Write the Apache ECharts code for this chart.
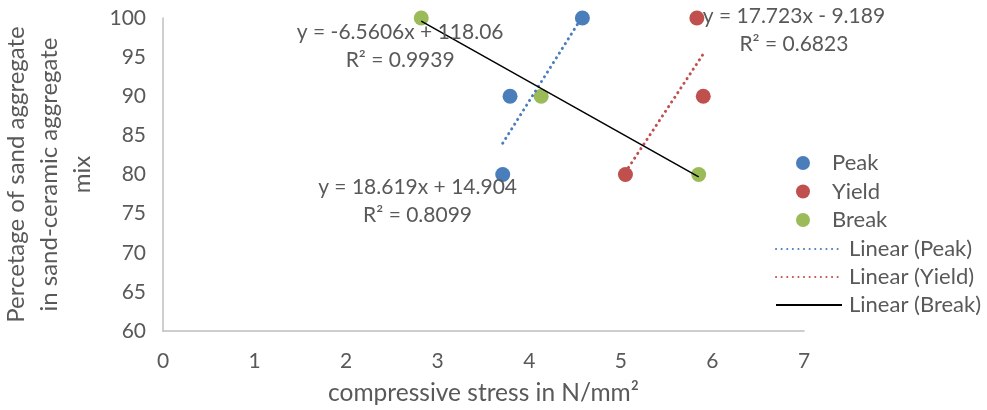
<!DOCTYPE html>
<html>
<head>
<meta charset="utf-8">
<script src="https://cdn.jsdelivr.net/npm/echarts@6/dist/echarts.min.js"></script>
<style>html,body{margin:0;padding:0;background:#fff}#c{width:987px;height:410px}</style>
</head>
<body>
<div id="c"></div>
<script>
// Data
const peakPoints  = [[3.71, 80], [3.79, 90], [4.58, 100]];
const yieldPoints = [[5.05, 80], [5.90, 90], [5.83, 100]];
const breakPoints = [[2.82, 100], [4.13, 90], [5.85, 80]];
// Trendline end points (as drawn in the picture)
const peakTrend  = [[3.71, 84.0], [4.58, 100.2]];
const yieldTrend = [[5.05, 80.3], [5.90, 95.4]];
const breakTrend = [[2.82, 99.6], [5.85, 79.7]];
// Equation labels: [x, y, text]
const peakEq  = [2.78, 76.6, 'y = 18.619x + 14.904\nR² = 0.8099'];
const yieldEq = [6.89, 98.4, 'y = 17.723x - 9.189\nR² = 0.6823'];
const breakEq = [2.59, 96.4, 'y = -6.5606x + 118.06\nR² = 0.9939'];
const xTicks = [0, 7, 1];
const yTicks = [60, 100, 5];

const FONT = 'Lato';
const TXT = '#595959';
const C_PEAK = '#4A7EBB', C_YIELD = '#C0504D', C_BREAK = '#9BBB59';

function eqMark(eq) {
  return {
    symbol: 'rect',
    symbolSize: 1,
    silent: true,
    itemStyle: { color: 'rgba(0,0,0,0)' },
    data: [{
      coord: [eq[0], eq[1]],
      label: {
        show: true, position: 'inside', formatter: eq[2],
        color: TXT, fontFamily: FONT, fontSize: 21, lineHeight: 28, align: 'center', verticalAlign: 'middle'
      }
    }]
  };
}

const chart = echarts.init(document.getElementById('c'));
chart.setOption({
  animation: false,
  backgroundColor: '#fff',
  textStyle: { fontFamily: FONT },
  grid: { left: 163, right: 183, top: 18, bottom: 79, containLabel: false, outerBoundsMode: 'none' },
  xAxis: {
    type: 'value', min: xTicks[0], max: xTicks[1], interval: xTicks[2],
    name: 'compressive stress in N/mm²', nameLocation: 'middle', nameGap: 50,
    nameTextStyle: { color: TXT, fontFamily: FONT, fontSize: 24.5 },
    axisLine: { show: true, lineStyle: { color: '#BFBFBF', width: 1.5 } },
    axisTick: { show: false },
    splitLine: { show: false },
    axisLabel: { color: TXT, fontFamily: FONT, fontSize: 21, margin: 20 }
  },
  yAxis: {
    type: 'value', min: yTicks[0], max: yTicks[1], interval: yTicks[2],
    name: 'Percetage of sand aggregate\nin sand-ceramic aggregate\nmix',
    nameLocation: 'middle', nameGap: 62, nameRotate: 90,
    nameTextStyle: { color: TXT, fontFamily: FONT, fontSize: 24, lineHeight: 33, align: 'center' },
    axisLine: { show: true, lineStyle: { color: '#BFBFBF', width: 1.5 } },
    axisTick: { show: false },
    splitLine: { show: false },
    axisLabel: { color: TXT, fontFamily: FONT, fontSize: 21, margin: 17 }
  },
  legend: [
    {
      orient: 'vertical', left: 791, top: 147, itemWidth: 14, itemHeight: 14, itemGap: 6.5,
      data: ['Peak', 'Yield', 'Break'],
      textStyle: { color: TXT, fontFamily: FONT, fontSize: 22, lineHeight: 22, padding: [0, 0, 0, 17] }
    },
    {
      orient: 'vertical', left: 770, top: 233, itemWidth: 66, itemHeight: 14, itemGap: 6,
      data: ['Linear (Peak)', 'Linear (Yield)', 'Linear (Break)'],
      itemStyle: { opacity: 0 },
      textStyle: { color: TXT, fontFamily: FONT, fontSize: 22, lineHeight: 22, padding: [0, 0, 0, 2] }
    }
  ],
  series: [
    { name: 'Linear (Peak)', type: 'line', data: peakTrend, showSymbol: false, symbol: 'none',
      lineStyle: { color: C_PEAK, width: 3, type: [0.1, 5.5], cap: 'round' }, itemStyle: { color: C_PEAK },
      markPoint: eqMark(peakEq) },
    { name: 'Linear (Yield)', type: 'line', data: yieldTrend, showSymbol: false, symbol: 'none',
      lineStyle: { color: C_YIELD, width: 3, type: [0.1, 5.5], cap: 'round' }, itemStyle: { color: C_YIELD },
      markPoint: eqMark(yieldEq) },
    { name: 'Linear (Break)', type: 'line', data: breakTrend, showSymbol: false, symbol: 'none',
      lineStyle: { color: '#000', width: 1.5 }, itemStyle: { color: '#000' },
      markPoint: eqMark(breakEq) },
    { name: 'Peak', type: 'scatter', data: peakPoints, symbolSize: 15, itemStyle: { color: C_PEAK, opacity: 1 }, z: 1 },
    { name: 'Yield', type: 'scatter', data: yieldPoints, symbolSize: 15, itemStyle: { color: C_YIELD, opacity: 1 }, z: 1 },
    { name: 'Break', type: 'scatter', data: breakPoints, symbolSize: 15, itemStyle: { color: C_BREAK, opacity: 1 }, z: 1 }
  ]
});
</script>
</body>
</html>
